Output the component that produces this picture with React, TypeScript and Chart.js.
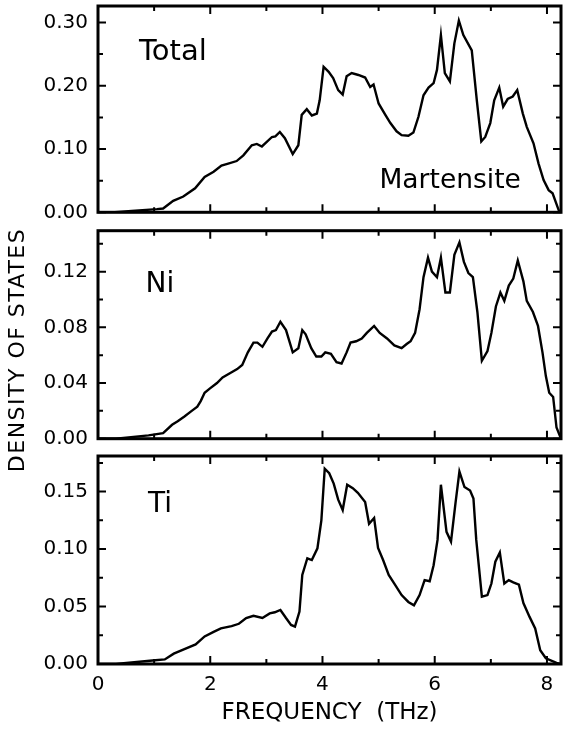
import React, { useEffect, useRef } from "react";
import { Chart, registerables } from "chart.js";

Chart.register(...registerables);

// ---------------- data ----------------
const freqTotal = [0, 0.3, 0.6, 1.05, 1.16, 1.34, 1.52, 1.73, 1.9, 2.06, 2.2, 2.32, 2.47, 2.59, 2.74, 2.83, 2.92, 3.1, 3.16, 3.24, 3.33, 3.47, 3.57, 3.63, 3.72, 3.81, 3.9, 3.95, 4.02, 4.11, 4.19, 4.28, 4.36, 4.43, 4.52, 4.64, 4.76, 4.85, 4.91, 5.0, 5.12, 5.21, 5.32, 5.41, 5.53, 5.62, 5.71, 5.8, 5.89, 5.98, 6.04, 6.11, 6.18, 6.27, 6.35, 6.43, 6.51, 6.66, 6.75, 6.83, 6.9, 6.99, 7.06, 7.15, 7.22, 7.3, 7.39, 7.47, 7.57, 7.64, 7.76, 7.85, 7.94, 8.03, 8.1, 8.21, 8.25];
const dosTotal = [0, 0, 0.002, 0.005, 0.006, 0.018, 0.025, 0.038, 0.056, 0.064, 0.074, 0.077, 0.081, 0.09, 0.106, 0.108, 0.104, 0.119, 0.12, 0.127, 0.117, 0.092, 0.106, 0.154, 0.163, 0.153, 0.156, 0.177, 0.23, 0.222, 0.212, 0.193, 0.186, 0.215, 0.22, 0.217, 0.213, 0.198, 0.202, 0.172, 0.154, 0.141, 0.128, 0.122, 0.121, 0.126, 0.151, 0.185, 0.197, 0.204, 0.225, 0.28, 0.22, 0.207, 0.267, 0.303, 0.28, 0.256, 0.177, 0.112, 0.119, 0.141, 0.177, 0.197, 0.167, 0.179, 0.183, 0.193, 0.156, 0.135, 0.109, 0.077, 0.051, 0.035, 0.03, 0.003, 0];

const freqNi = [0, 0.32, 0.9, 1.16, 1.32, 1.42, 1.54, 1.67, 1.77, 1.83, 1.9, 1.99, 2.12, 2.22, 2.35, 2.48, 2.57, 2.67, 2.77, 2.84, 2.93, 3.02, 3.1, 3.17, 3.25, 3.35, 3.47, 3.57, 3.64, 3.7, 3.8, 3.89, 3.98, 4.05, 4.15, 4.25, 4.34, 4.43, 4.5, 4.6, 4.7, 4.79, 4.92, 5.02, 5.15, 5.28, 5.41, 5.5, 5.57, 5.65, 5.73, 5.8, 5.88, 5.95, 6.04, 6.11, 6.19, 6.27, 6.35, 6.44, 6.52, 6.6, 6.68, 6.76, 6.84, 6.94, 7.01, 7.09, 7.17, 7.24, 7.32, 7.4, 7.48, 7.58, 7.64, 7.75, 7.84, 7.92, 7.98, 8.04, 8.11, 8.17, 8.24];
const dosNi = [0, 0, 0.0024, 0.004, 0.01, 0.0126, 0.016, 0.02, 0.023, 0.027, 0.033, 0.036, 0.04, 0.044, 0.047, 0.05, 0.053, 0.062, 0.069, 0.069, 0.066, 0.072, 0.077, 0.078, 0.084, 0.078, 0.062, 0.065, 0.078, 0.075, 0.065, 0.059, 0.059, 0.062, 0.061, 0.055, 0.054, 0.062, 0.069, 0.07, 0.072, 0.076, 0.081, 0.076, 0.072, 0.067, 0.065, 0.068, 0.07, 0.076, 0.093, 0.116, 0.13, 0.12, 0.116, 0.13, 0.105, 0.105, 0.132, 0.141, 0.127, 0.119, 0.116, 0.091, 0.056, 0.063, 0.076, 0.095, 0.105, 0.099, 0.11, 0.115, 0.128, 0.113, 0.099, 0.091, 0.081, 0.062, 0.045, 0.033, 0.03, 0.008, 0.001];

const freqTi = [0, 0.32, 0.97, 1.19, 1.35, 1.54, 1.74, 1.9, 2.06, 2.19, 2.38, 2.51, 2.64, 2.77, 2.93, 3.06, 3.15, 3.25, 3.35, 3.44, 3.51, 3.59, 3.64, 3.73, 3.81, 3.91, 3.98, 4.04, 4.12, 4.2, 4.28, 4.36, 4.44, 4.54, 4.63, 4.76, 4.83, 4.92, 4.99, 5.08, 5.18, 5.28, 5.41, 5.53, 5.63, 5.73, 5.82, 5.91, 5.98, 6.05, 6.11, 6.21, 6.29, 6.37, 6.44, 6.53, 6.63, 6.69, 6.74, 6.84, 6.94, 7.01, 7.08, 7.16, 7.24, 7.32, 7.4, 7.5, 7.58, 7.69, 7.79, 7.88, 7.98, 8.17, 8.25];
const dosTi = [0, 0, 0.003, 0.004, 0.009, 0.013, 0.017, 0.024, 0.028, 0.031, 0.033, 0.035, 0.04, 0.042, 0.04, 0.044, 0.045, 0.047, 0.04, 0.034, 0.0325, 0.0456, 0.0775, 0.092, 0.0905, 0.1007, 0.125, 0.17, 0.166, 0.157, 0.143, 0.134, 0.156, 0.153, 0.149, 0.141, 0.122, 0.127, 0.101, 0.0905, 0.0775, 0.07, 0.06, 0.054, 0.051, 0.06, 0.073, 0.072, 0.086, 0.108, 0.156, 0.115, 0.1065, 0.14, 0.1675, 0.154, 0.151, 0.144, 0.108, 0.0586, 0.06, 0.07, 0.089, 0.097, 0.07, 0.073, 0.071, 0.069, 0.053, 0.041, 0.031, 0.012, 0.005, 0.001, 0];

const xTickValues = [0, 2, 4, 6, 8];
const xMinorValues = [1, 3, 5, 7];
const yTicksTotal = [0, 0.1, 0.2, 0.3];
const yTicksNi = [0, 0.04, 0.08, 0.12];
const yTicksTi = [0, 0.05, 0.1, 0.15];
const yMaxTotal = 0.326;
const yMaxNi = 0.1494;
const yMaxTi = 0.181;
const xMax = 8.25;

const panelNames = ["Total", "Ni", "Ti"];
const phaseName = "Martensite";
const xTitle = "FREQUENCY  (THz)";
const yTitle = "DENSITY OF STATES";

// ---------------- styling ----------------
const FONT = "'DejaVu Sans', sans-serif";

type TextItem = { text: string; dx: number; dy: number; size: number };
type Overlay = {
  yTicks: number[];
  yMax: number;
  texts: TextItem[];
  rotated?: { text: string; x: number; y: number; size: number };
};

function makeOverlay(cfg: Overlay) {
  const step = cfg.yTicks[1] - cfg.yTicks[0];
  const yMinor = cfg.yTicks.map((v) => v + step / 2).filter((v) => v < cfg.yMax);
  return {
    id: "frameTicks",
    afterDatasetsDraw(chart: any) {
      const { ctx, chartArea: a, scales } = chart;
      const xs = scales.x;
      const ys = scales.y;
      ctx.save();
      ctx.strokeStyle = "#000";
      ctx.lineWidth = 2;
      ctx.beginPath();
      const vt = (v: number, len: number) => {
        const p = xs.getPixelForValue(v);
        ctx.moveTo(p, a.top);
        ctx.lineTo(p, a.top + len);
        ctx.moveTo(p, a.bottom);
        ctx.lineTo(p, a.bottom - len);
      };
      const ht = (v: number, len: number) => {
        const p = ys.getPixelForValue(v);
        ctx.moveTo(a.left, p);
        ctx.lineTo(a.left + len, p);
        ctx.moveTo(a.right, p);
        ctx.lineTo(a.right - len, p);
      };
      xTickValues.forEach((v) => vt(v, 8));
      xMinorValues.forEach((v) => vt(v, 5));
      cfg.yTicks.forEach((v) => ht(v, 8));
      yMinor.forEach((v) => ht(v, 5));
      ctx.stroke();
      ctx.lineWidth = 3;
      ctx.strokeRect(a.left, a.top, a.right - a.left, a.bottom - a.top);
      ctx.fillStyle = "#000";
      ctx.textAlign = "left";
      ctx.textBaseline = "alphabetic";
      for (const t of cfg.texts) {
        ctx.font = `${t.size}px ${FONT}`;
        ctx.fillText(t.text, a.left + t.dx, a.top + t.dy);
      }
      if (cfg.rotated) {
        const r = cfg.rotated;
        ctx.translate(r.x, r.y);
        ctx.rotate(-Math.PI / 2);
        ctx.font = `${r.size}px ${FONT}`;
        (ctx as any).letterSpacing = "1.5px";
        ctx.textAlign = "center";
        ctx.textBaseline = "middle";
        ctx.fillText(r.text, 0, 0);
      }
      ctx.restore();
    },
  };
}

function makeChart(
  canvas: HTMLCanvasElement,
  freq: number[],
  dos: number[],
  yTicks: number[],
  yMax: number,
  padding: { top: number; bottom: number },
  showX: boolean,
  overlay: Overlay
) {
  const pts = freq.map((f, i) => ({ x: f, y: dos[i] }));
  return new Chart(canvas, {
    type: "line",
    data: {
      datasets: [
        {
          data: pts,
          borderColor: "#000",
          borderWidth: 2.4,
          pointRadius: 0,
          tension: 0,
          fill: false,
        },
      ],
    },
    options: {
      responsive: false,
      animation: false,
      devicePixelRatio: 1,
      layout: { padding: { top: padding.top, bottom: padding.bottom, left: 0, right: 5 } },
      plugins: { legend: { display: false }, tooltip: { enabled: false } },
      scales: {
        x: {
          type: "linear",
          min: 0,
          max: xMax,
          display: showX,
          afterBuildTicks: (s: any) => {
            s.ticks = xTickValues.map((v) => ({ value: v }));
          },
          afterFit: (s: any) => {
            s.height = showX ? 66 : 0;
            s.paddingLeft = 0;
            s.paddingRight = 0;
          },
          grid: { display: false, drawTicks: false },
          border: { display: false },
          ticks: {
            color: "#000",
            font: { family: FONT, size: 20 },
            padding: 9,
            maxRotation: 0,
            autoSkip: false,
            callback: (v: any) => String(v),
          },
          title: {
            display: true,
            text: xTitle,
            color: "#000",
            font: { family: FONT, size: 23 },
            padding: { top: 0, bottom: 3 },
          },
        },
        y: {
          type: "linear",
          min: 0,
          max: yMax,
          afterBuildTicks: (s: any) => {
            s.ticks = yTicks.map((v) => ({ value: v }));
          },
          afterFit: (s: any) => {
            s.width = 98;
            s.paddingTop = 0;
            s.paddingBottom = 0;
          },
          grid: { display: false, drawTicks: false },
          border: { display: false },
          ticks: {
            color: "#000",
            font: { family: FONT, size: 20 },
            padding: 10,
            autoSkip: false,
            callback: (v: any) => Number(v).toFixed(2),
          },
        },
      },
    } as any,
    plugins: [makeOverlay(overlay)],
  });
}

export default function App() {
  const r1 = useRef<HTMLCanvasElement>(null);
  const r2 = useRef<HTMLCanvasElement>(null);
  const r3 = useRef<HTMLCanvasElement>(null);

  useEffect(() => {
    const c1 = makeChart(r1.current!, freqTotal, dosTotal, yTicksTotal, yMaxTotal, { top: 6, bottom: 11.7 }, false, {
      yTicks: yTicksTotal,
      yMax: yMaxTotal,
      texts: [
        { text: panelNames[0], dx: 41, dy: 53.5, size: 29 },
        { text: phaseName, dx: 281.5, dy: 182.3, size: 26.5 },
      ],
    });
    const c2 = makeChart(r2.current!, freqNi, dosNi, yTicksNi, yMaxNi, { top: 16.7, bottom: 51.3 }, false, {
      yTicks: yTicksNi,
      yMax: yMaxNi,
      texts: [{ text: panelNames[1], dx: 47.5, dy: 61, size: 28 }],
      rotated: { text: yTitle, x: 18, y: 136, size: 22 },
    });
    const c3 = makeChart(r3.current!, freqTi, dosTi, yTicksTi, yMaxTi, { top: 10, bottom: 0 }, true, {
      yTicks: yTicksTi,
      yMax: yMaxTi,
      texts: [{ text: panelNames[2], dx: 50, dy: 55.7, size: 28 }],
    });
    return () => {
      c1.destroy();
      c2.destroy();
      c3.destroy();
    };
  }, []);

  const cs = (top: number, h: number): React.CSSProperties => ({
    position: "absolute",
    left: 0,
    top,
    width: 566,
    height: h,
  });

  return (
    <div style={{ position: "absolute", left: 0, top: 0, width: 566, height: 730, background: "#fff" }}>
      <canvas ref={r1} width={566} height={224} style={cs(0, 224)} />
      <canvas ref={r2} width={566} height={276} style={cs(214, 276)} />
      <canvas ref={r3} width={566} height={284} style={cs(446, 284)} />
    </div>
  );
}
